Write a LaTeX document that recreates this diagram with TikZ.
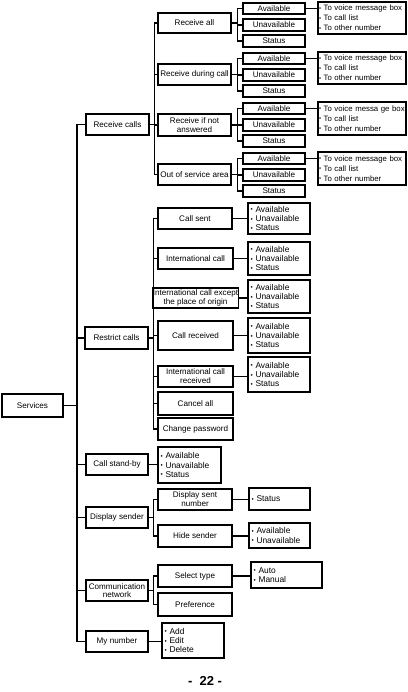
\documentclass[tikz,border=0pt]{standalone}
\usepackage{fontspec}
\setmainfont{Liberation Sans}
\usepackage{graphicx}
\usetikzlibrary{shadows}
\tikzset{
  box/.style={draw, fill=white, line width=1.4pt, inner sep=0.3pt, align=center,
    font=\fontsize{8.1}{8.8}\selectfont,
    drop shadow={shadow xshift=0.7pt, shadow yshift=-0.7pt, fill=black, opacity=1}},
  lbox/.style={box, align=left, inner xsep=1.5pt, font=\fontsize{8.4}{9.2}\selectfont},
  rlist/.style={font=\fontsize{7.8}{10}\selectfont, inner xsep=1pt, text width=86pt},
  conn/.style={line width=1.3pt},
  trunk/.style={line width=1.9pt},
}
\newcommand\bu{\raisebox{0.1ex}{\scalebox{0.75}{\textbullet}}\ }
\newcommand\mybox[7][]{%
  \pgfmathsetmacro\bxw{#5-#3}\pgfmathsetmacro\bxh{#6-#4}%
  \pgfmathsetmacro\bxcx{(#3+#5)/2}\pgfmathsetmacro\bxcy{(#4+#6)/2}%
  \node[box, minimum width=\bxw pt, minimum height=\bxh pt, #1] (#2) at (\bxcx,\bxcy) {#7};}
\newcommand\mylist[7][]{%
  \pgfmathsetmacro\bxw{#5-#3}\pgfmathsetmacro\bxh{#6-#4}\pgfmathsetmacro\bxt{#5-#3-5}%
  \pgfmathsetmacro\bxcx{(#3+#5)/2}\pgfmathsetmacro\bxcy{(#4+#6)/2}%
  \node[lbox, minimum width=\bxw pt, minimum height=\bxh pt, text width=\bxt pt, #1] (#2) at (\bxcx,\bxcy) {#7};}
\begin{document}
\begin{tikzpicture}[x=1pt,y=-1pt]
\fill[white] (0,0) rectangle (407,692);
\useasboundingbox (0,0) rectangle (407,692);

% level 0 / 1
\mybox{svc}{2}{394}{63}{417}{Services}
\mybox{rc}{86}{114}{149}{135}{Receive calls}
\mybox{rs}{85}{327}{148}{349}{Restrict calls}
\mybox{cb}{86}{454}{148}{475}{Call stand-by}
\mybox{ds}{86}{507}{148}{528}{Display sender}
\mybox{cn}{86}{580}{148}{601}{Communication\\network}
\mybox{mn}{86}{631}{148}{652}{My number}

% receive calls
\mybox{ra}{158}{13}{231}{33}{Receive all}
\mybox{ra1}{243}{3}{305}{14}{Available}
\mybox{ra2}{243}{19}{305}{31}{Unavailable}
\mybox{ra3}{243}{35}{305}{47}{Status}
\mylist[rlist]{ra-l}{318}{2}{406}{34}{\bu To voice message box\\\bu To call list\\\bu To other number}

\mybox{rd}{158}{64}{231}{85}{Receive during call}
\mybox{rd1}{243}{53}{305}{64}{Available}
\mybox{rd2}{243}{69}{305}{81}{Unavailable}
\mybox{rd3}{243}{85}{305}{97}{Status}
\mylist[rlist]{rd-l}{318}{52}{406}{84}{\bu To voice message box\\\bu To call list\\\bu To other number}

\mybox{rn}{158}{114}{231}{136}{Receive if not\\answered}
\mybox{rn1}{243}{103}{305}{114}{Available}
\mybox{rn2}{243}{119}{305}{131}{Unavailable}
\mybox{rn3}{243}{135}{305}{147}{Status}
\mylist[rlist]{rn-l}{318}{102}{406}{135}{\bu To voice messa ge box\\\bu To call list\\\bu To other number}

\mybox{ro}{158}{164}{231}{185}{Out of service area}
\mybox{ro1}{243}{153}{305}{164}{Available}
\mybox{ro2}{243}{169}{305}{181}{Unavailable}
\mybox{ro3}{243}{185}{305}{197}{Status}
\mylist[rlist]{ro-l}{318}{152}{406}{185}{\bu To voice message box\\\bu To call list\\\bu To other number}

% restrict calls
\mybox{cs}{158}{208}{232}{229}{Call sent}
\mylist{cs-l}{248}{203}{310}{234}{\bu Available\\\bu Unavailable\\\bu Status}
\mybox{ic}{158}{248}{233}{269}{International call}
\mylist{ic-l}{248}{242}{310}{275}{\bu Available\\\bu Unavailable\\\bu Status}
\mybox{ie}{158}{288}{233}{308}{International call except\\the place of origin}
\mylist{ie-l}{248}{280}{310}{313}{\bu Available\\\bu Unavailable\\\bu Status}
\mybox{cr}{158}{321}{233}{350}{Call received}
\mylist{cr-l}{248}{318}{310}{353}{\bu Available\\\bu Unavailable\\\bu Status}
\mybox{ir}{158}{366}{233}{387}{International call\\received}
\mylist{ir-l}{248}{357}{310}{392}{\bu Available\\\bu Unavailable\\\bu Status}
\mybox{ca}{158}{392}{233}{415}{Cancel all}
\mybox{cp}{158}{418}{233}{440}{Change password}

% call stand-by
\mylist{cb-l}{158}{447}{221}{483}{\bu Available\\\bu Unavailable\\\bu Status}

% display sender
\mybox{dn}{158}{489}{232}{510}{Display sent\\number}
\mylist{dn-l}{249}{488}{310}{510}{\bu Status}
\mybox{hs}{158}{525}{232}{547}{Hide sender}
\mylist{hs-l}{249}{523}{310}{548}{\bu Available\\\bu Unavailable}

% communication network
\mybox{st}{158}{565}{232}{587}{Select type}
\mylist{st-l}{251}{562}{322}{588}{\bu Auto\\\bu Manual}
\mybox{pf}{158}{593}{232}{616}{Preference}

% my number
\mylist{mn-l}{162}{623}{224}{658}{\bu Add\\\bu Edit\\\bu Delete}

% page number
\node[font=\fontsize{13}{13}\selectfont\bfseries] (pg) at (205,681) {-\ \ 22 -};

% connectors
\foreach \c in {rc,rs,cb,ds,cn,mn} \draw[trunk] (svc.east) -- ++(13.5,0) |- (\c.west);
\foreach \c in {ra,rd,rn,ro} \draw[conn] (rc.east) -- ++(5,0) |- (\c.west);
\foreach \p in {ra,rd,rn,ro} {
  \foreach \i in {1,2,3} \draw[conn] (\p.east) -- ++(6,0) |- (\p\i.west);
  \draw[conn] (\p1.east) -- (\p1.east -| \p-l.west);
}
\foreach \c in {cs,ic,ie,cr,ir,ca,cp} \draw[conn] (rs.east) -- ++(5,0) |- (\c.west);
\foreach \c in {cs,ic,ie,cr,ir} \draw[conn] (\c.east) -- (\c.east -| \c-l.west);
\draw[conn] (cb.east) -- (cb.east -| cb-l.west);
\foreach \c in {dn,hs} {
  \draw[conn] (ds.east) -- ++(5,0) |- (\c.west);
  \draw[conn] (\c.east) -- (\c.east -| \c-l.west);
}
\foreach \c in {st,pf} \draw[conn] (cn.east) -- ++(5,0) |- (\c.west);
\draw[conn] (st.east) -- (st.east -| st-l.west);
\draw[conn] (mn.east) -- (mn.east -| mn-l.west);
\end{tikzpicture}
\end{document}
